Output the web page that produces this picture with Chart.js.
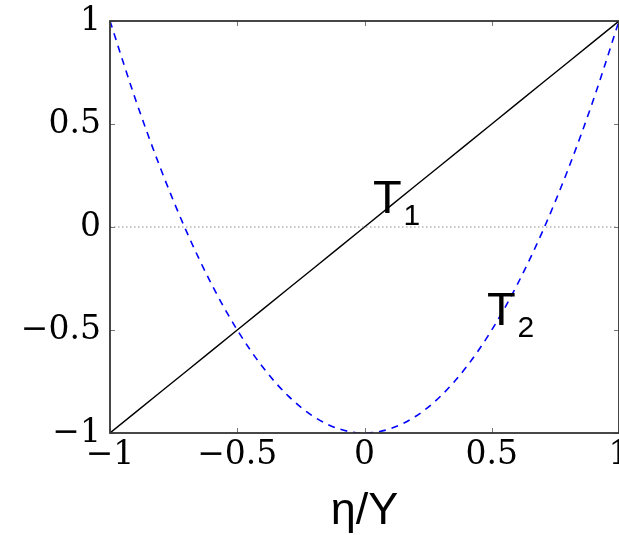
<!DOCTYPE html>
<html>
<head>
<meta charset="utf-8">
<script src="https://cdn.jsdelivr.net/npm/chart.js@4/dist/chart.umd.min.js"></script>
<style>
  html, body { margin: 0; padding: 0; background: #ffffff; }
  canvas { display: block; }
</style>
</head>
<body>
<canvas id="cheb" width="619" height="535"></canvas>
<script>
// Chebyshev polynomials of the first kind on [-1, 1]
const etaValues = [-1, -0.9, -0.8, -0.7, -0.6, -0.5, -0.4, -0.3, -0.2, -0.1, 0,
                   0.1, 0.2, 0.3, 0.4, 0.5, 0.6, 0.7, 0.8, 0.9, 1];
const t1Values  = [-1, -0.9, -0.8, -0.7, -0.6, -0.5, -0.4, -0.3, -0.2, -0.1, 0,
                   0.1, 0.2, 0.3, 0.4, 0.5, 0.6, 0.7, 0.8, 0.9, 1];
const t2Values  = [1, 0.62, 0.28, -0.02, -0.28, -0.5, -0.68, -0.82, -0.92, -0.98, -1,
                   -0.98, -0.92, -0.82, -0.68, -0.5, -0.28, -0.02, 0.28, 0.62, 1];
const zeroLineX = [-1, 1];
const zeroLineY = [0, 0];
const tickValues = [-1, -0.5, 0, 0.5, 1];

// curve names with subscripts, placed in data coordinates
const curveNames = ['T', 'T'];
const curveSubs  = ['1', '2'];
const curveNameX = [0.033, 0.481];
const curveNameY = [0.068, -0.476];

const toPoints = (xs, ys) => xs.map((x, i) => ({ x: x, y: ys[i] }));
const fmtTick = v => {
  const s = String(Math.abs(v));
  return v < 0 ? '\u2212' + s : s;
};

const tickFont = { family: 'DejaVu Serif', size: 33, lineHeight: 1.2 };

// frame with inward tick marks on all four sides
const framePlugin = {
  id: 'frame',
  afterDatasetsDraw(chart) {
    const { ctx, chartArea: a, scales } = chart;
    const len = 5;
    ctx.save();
    ctx.strokeStyle = '#777777';
    ctx.lineWidth = 1;
    tickValues.forEach(v => {
      const px = Math.round(scales.x.getPixelForValue(v)) + 0.5;
      const py = Math.round(scales.y.getPixelForValue(v)) + 0.5;
      ctx.beginPath();
      ctx.moveTo(px, a.bottom); ctx.lineTo(px, a.bottom - len);
      ctx.moveTo(px, a.top);    ctx.lineTo(px, a.top + len);
      ctx.moveTo(a.left, py);   ctx.lineTo(a.left + len, py);
      ctx.moveTo(a.right, py);  ctx.lineTo(a.right - len, py);
      ctx.stroke();
    });
    ctx.strokeStyle = '#333333';
    ctx.lineWidth = 1.8;
    ctx.strokeRect(a.left, a.top, a.right - a.left, a.bottom - a.top);
    ctx.restore();
  }
};

// "T" labels with numeric subscripts next to each curve
const namePlugin = {
  id: 'curveNames',
  afterDatasetsDraw(chart) {
    const { ctx, scales } = chart;
    ctx.save();
    ctx.fillStyle = '#000000';
    ctx.textBaseline = 'alphabetic';
    ctx.textAlign = 'left';
    curveNames.forEach((name, i) => {
      const px = scales.x.getPixelForValue(curveNameX[i]);
      const py = scales.y.getPixelForValue(curveNameY[i]);
      ctx.font = '47px "Liberation Sans", Arial, sans-serif';
      ctx.fillText(name, px, py);
      const w = ctx.measureText(name).width;
      ctx.font = '30px "Liberation Sans", Arial, sans-serif';
      ctx.fillText(curveSubs[i], px + w + 2, py + 12);
    });
    ctx.restore();
  }
};

new Chart(document.getElementById('cheb'), {
  type: 'scatter',
  data: {
    datasets: [
      {
        data: toPoints(zeroLineX, zeroLineY),
        showLine: true,
        borderColor: '#8c8c8c',
        borderWidth: 1.2,
        borderDash: [1.5, 2.5],
        pointRadius: 0
      },
      {
        data: toPoints(etaValues, t2Values),
        showLine: true,
        borderColor: '#0000ff',
        borderWidth: 1.6,
        borderDash: [7, 6],
        cubicInterpolationMode: 'monotone',
        pointRadius: 0
      },
      {
        data: toPoints(etaValues, t1Values),
        showLine: true,
        borderColor: '#000000',
        borderWidth: 1.4,
        pointRadius: 0
      }
    ]
  },
  options: {
    responsive: false,
    animation: false,
    devicePixelRatio: 1,
    layout: { padding: { top: 21, right: 0, bottom: 0, left: 0 } },
    plugins: { legend: { display: false }, tooltip: { enabled: false } },
    scales: {
      x: {
        type: 'linear',
        min: -1, max: 1,
        grid: { display: false, drawTicks: false },
        border: { display: false },
        afterBuildTicks: s => { s.ticks = tickValues.map(v => ({ value: v })); },
        ticks: {
          font: tickFont, color: '#000000', padding: 3,
          maxRotation: 0, autoSkip: false,
          callback: v => fmtTick(v)
        },
        title: {
          display: true,
          text: '\u03B7/Y',
          color: '#000000',
          font: { family: '"Liberation Sans", Arial, sans-serif', size: 45, lineHeight: 1 },
          padding: { top: 0, bottom: 1 }
        },
        afterFit: s => {
          s.height = 102;
          s.paddingLeft = 0; s.paddingRight = 0;
        }
      },
      y: {
        type: 'linear',
        min: -1, max: 1,
        grid: { display: false, drawTicks: false },
        border: { display: false },
        afterBuildTicks: s => { s.ticks = tickValues.map(v => ({ value: v })); },
        ticks: {
          font: tickFont, color: '#000000', padding: 9,
          autoSkip: false,
          callback: v => fmtTick(v)
        },
        afterFit: s => {
          s.width = 110;
          s.paddingTop = 0; s.paddingBottom = 0;
        }
      }
    }
  },
  plugins: [framePlugin, namePlugin]
});
</script>
</body>
</html>
